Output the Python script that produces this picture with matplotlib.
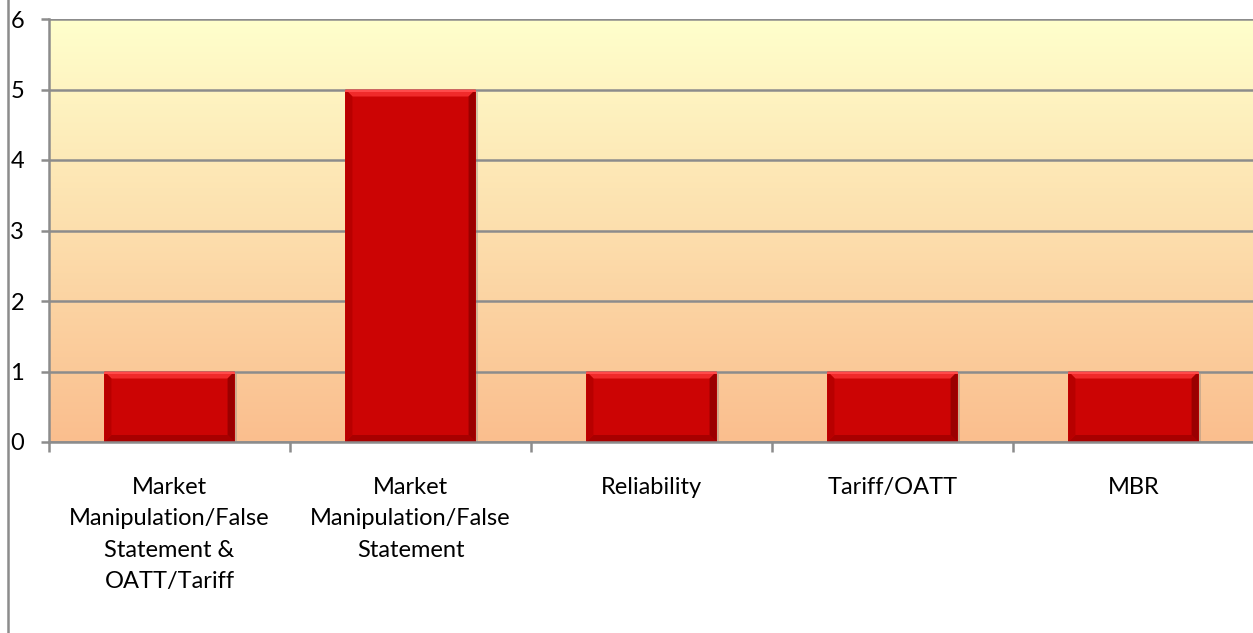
import matplotlib
matplotlib.use("Agg")
import matplotlib.pyplot as plt
import numpy as np
from matplotlib.patches import Polygon
from matplotlib.lines import Line2D

categories = ["Market\nManipulation/False\nStatement &\nOATT/Tariff",
              "Market\nManipulation/False\nStatement",
              "Reliability", "Tariff/OATT", "MBR"]
values = [1, 5, 1, 1, 1]
yticks = [0, 1, 2, 3, 4, 5, 6]

plt.rcParams['font.family'] = ['Lato', 'DejaVu Sans']

W, H, DPI = 1253, 633, 100
fig = plt.figure(figsize=(W / DPI, H / DPI), dpi=DPI)
ax = fig.add_axes([49 / W, 1 - 442 / H, (1254 - 49) / W, (442 - 19) / H])

n = len(categories)
x = np.arange(n)
ax.set_xlim(-0.5, n - 0.5)
ax.set_ylim(0, 6)

# background gradient
top = np.array([255, 255, 204]) / 255
bot = np.array([250, 190, 142]) / 255
t = np.linspace(0, 1, 256)[:, None]
grad = (top * (1 - t) + bot * t)[:, None, :]
ax.imshow(grad, extent=(-0.5, n - 0.5, 0, 6), aspect='auto', zorder=0, origin='upper')

# gridlines
for yv in yticks:
    ax.axhline(yv, color='#8c8c8c', lw=1.8, zorder=1)

bw = 0.54
bars = ax.bar(x, values, width=bw, color='#cc0404', zorder=3, linewidth=0)

fig.canvas.draw()
inv = ax.transData.inverted()
for b in bars:
    x0, y0 = b.get_x(), b.get_y()
    x1, y1 = x0 + b.get_width(), y0 + b.get_height()
    (px0, py0) = ax.transData.transform((x0, y0))
    (px1, py1) = ax.transData.transform((x1, y1))
    P = lambda a, c: inv.transform((a, c))
    # shadow
    sh = [P(px0 + 1, py0 - 4), P(px1 + 2, py0 - 4), P(px1 + 2, py1 - 2), P(px0 + 1, py1 - 2)]
    ax.add_patch(Polygon(sh, closed=True, facecolor='#808080', alpha=0.35, lw=0, zorder=2))
    d = 7
    o = [P(px0, py0), P(px1, py0), P(px1, py1), P(px0, py1)]
    i = [P(px0 + d, py0 + d), P(px1 - d, py0 + d), P(px1 - d, py1 - d), P(px0 + d, py1 - d)]
    ax.add_patch(Polygon([o[3], o[2], i[2], i[3]], closed=True, facecolor='#f02a2a', lw=0, zorder=4))
    ax.add_patch(Polygon([o[0], o[1], i[1], i[0]], closed=True, facecolor='#a80000', lw=0, zorder=4))
    ax.add_patch(Polygon([o[0], o[3], i[3], i[0]], closed=True, facecolor='#b80000', lw=0, zorder=4))
    ax.add_patch(Polygon([o[1], o[2], i[2], i[1]], closed=True, facecolor='#9a0000', lw=0, zorder=4))
    ax.add_patch(Polygon([o[3], o[2], P(px1, py1 - 2), P(px0, py1 - 2)], closed=True,
                         facecolor='#ff4a4a', lw=0, zorder=5))

for s in ['top', 'right']:
    ax.spines[s].set_visible(False)
for s in ['left', 'bottom']:
    ax.spines[s].set_color('#8c8c8c')
    ax.spines[s].set_linewidth(1.8)
    ax.spines[s].set_zorder(6)

ax.set_yticks(yticks)
ax.set_yticklabels([str(v) for v in yticks], fontsize=17, color='black')
ax.tick_params(axis='y', direction='out', length=6, width=1.8, color='#8c8c8c', pad=12)

ax.set_xticks(x)
ax.set_xticklabels(categories, fontsize=17, linespacing=1.62)
ax.tick_params(axis='x', length=0, pad=25)
ax.set_xticks(np.arange(-0.5, n, 1), minor=True)
ax.tick_params(axis='x', which='minor', direction='out', length=7, width=1.8, color='#8c8c8c')

fig.add_artist(Line2D([7.5 / W, 7.5 / W], [0, 1], color='#8c8c8c', lw=1.8))

fig.savefig('out.png', dpi=DPI)
